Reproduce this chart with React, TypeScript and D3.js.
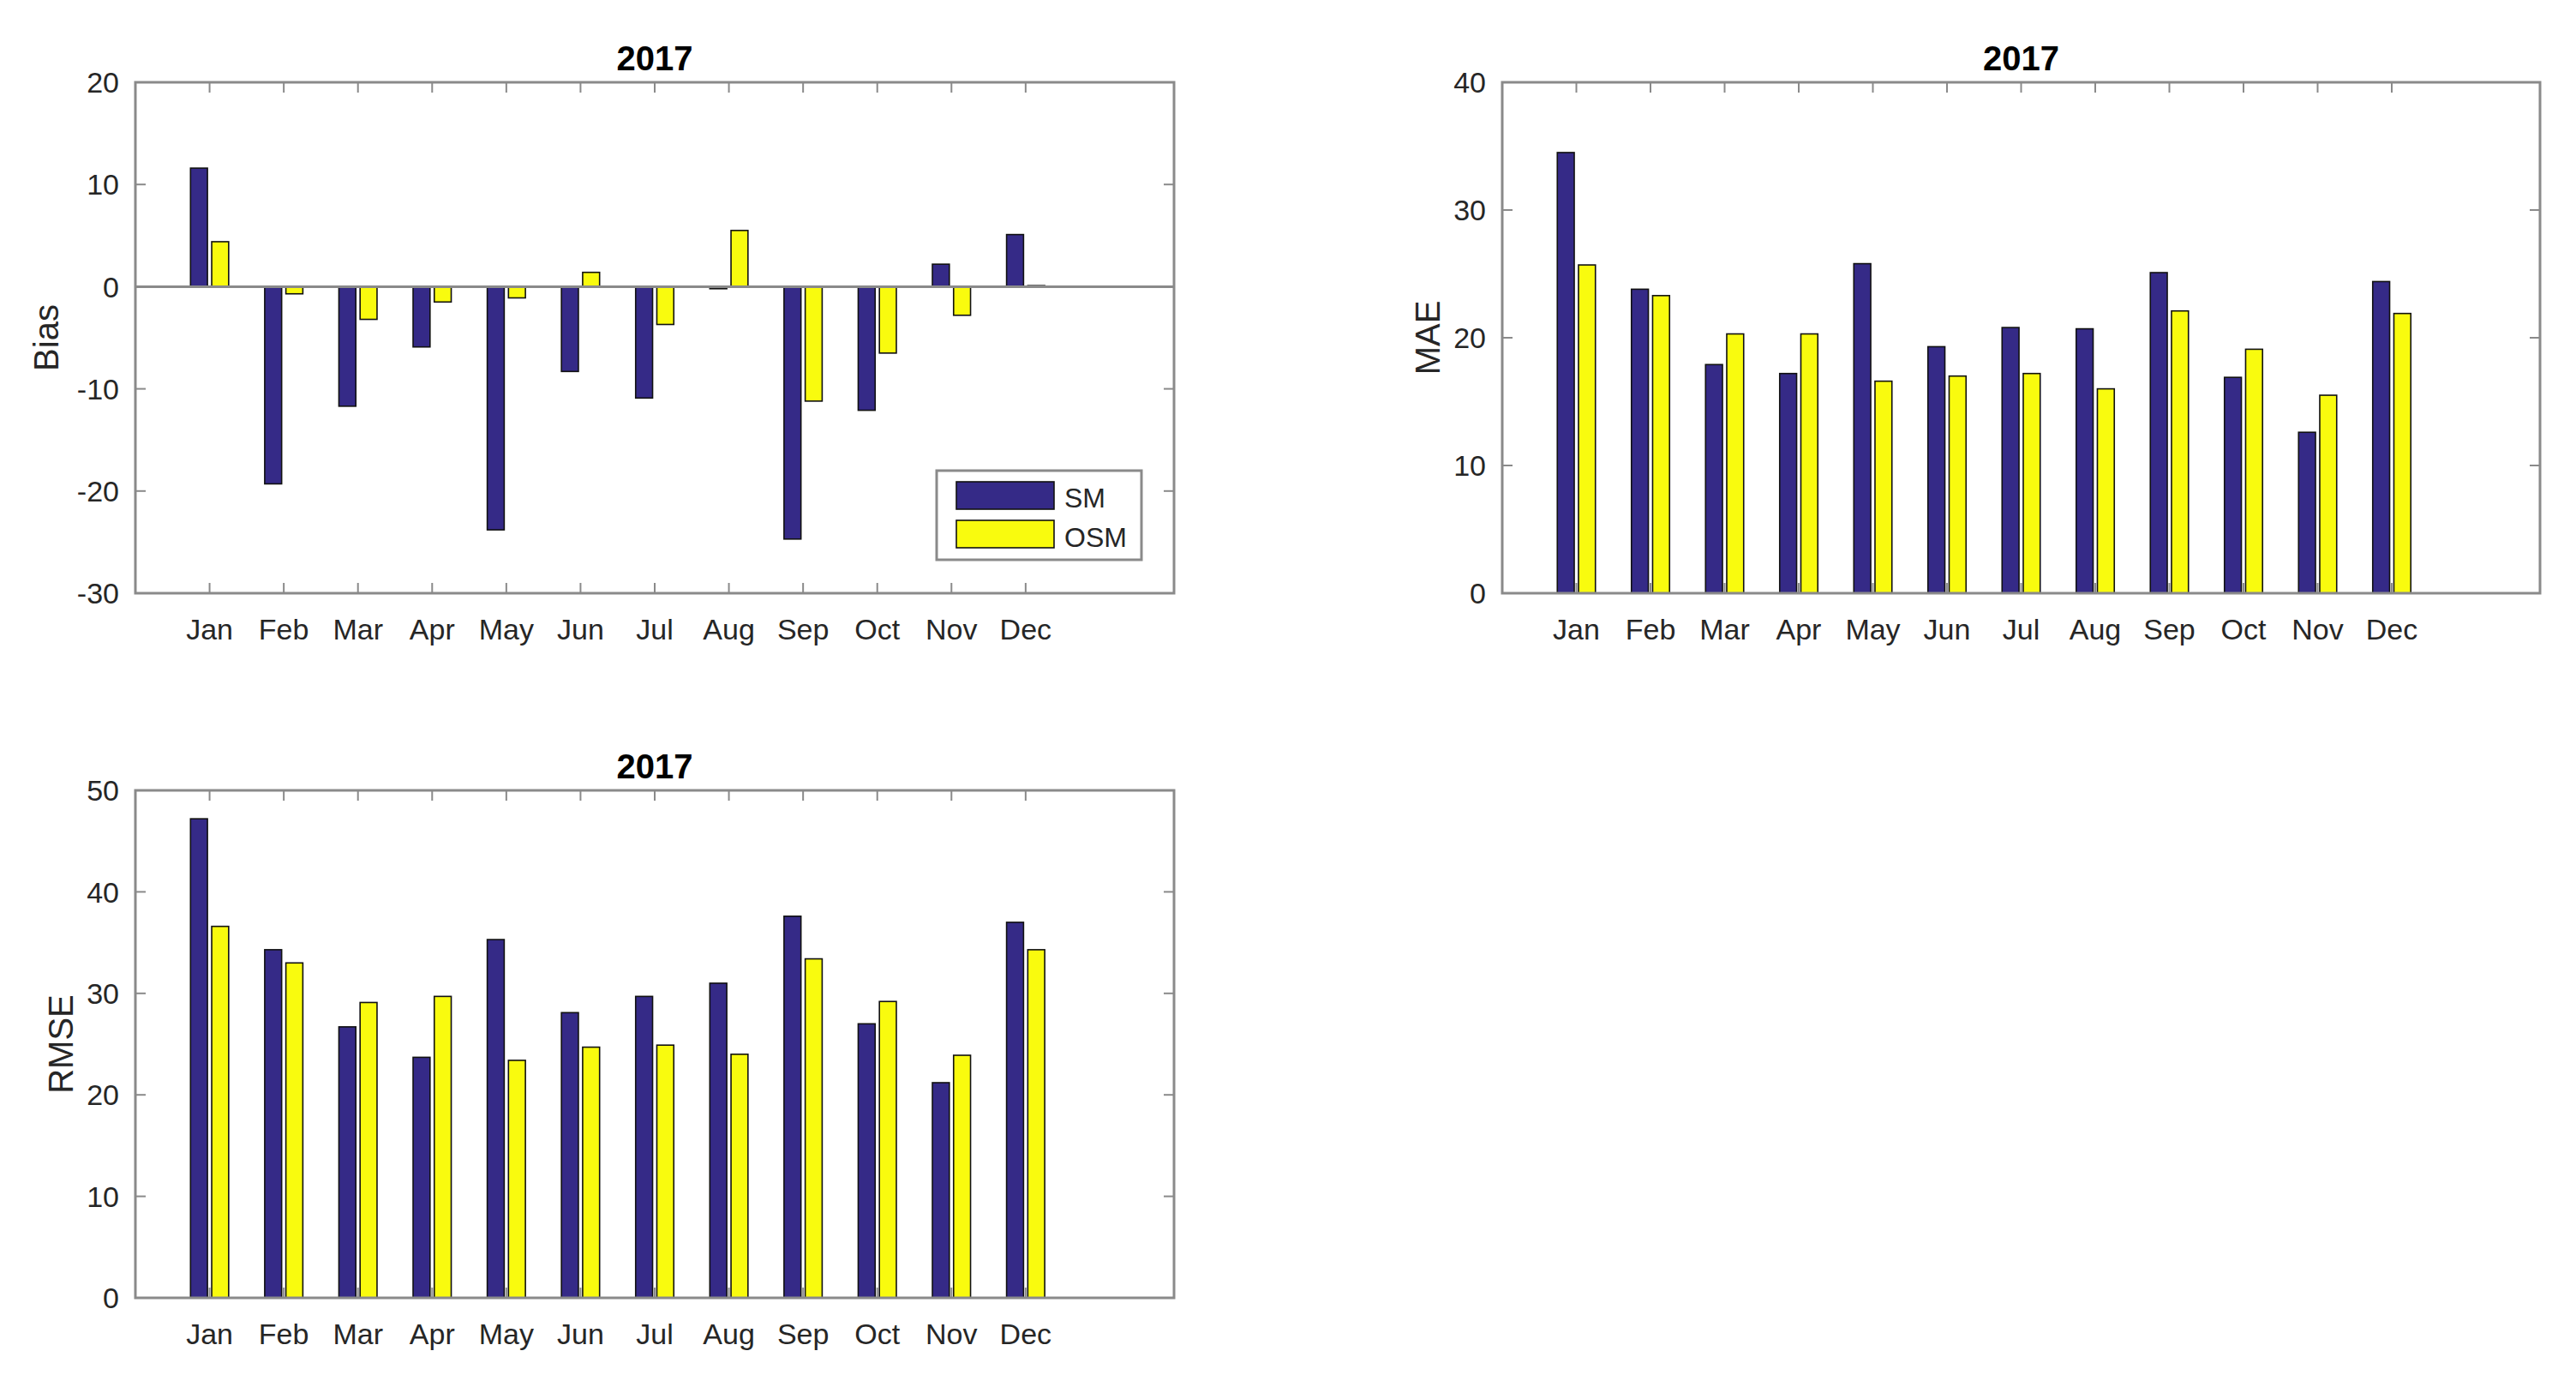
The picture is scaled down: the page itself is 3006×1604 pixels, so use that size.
import React from "react";
import * as d3 from "d3";

const months = ["Jan", "Feb", "Mar", "Apr", "May", "Jun", "Jul", "Aug", "Sep", "Oct", "Nov", "Dec"];
const seriesNames = ["SM", "OSM"];
const seriesColors = ["#352a87", "#f9fb0e"];

const biasSM = [11.6, -19.3, -11.7, -5.9, -23.8, -8.3, -10.9, -0.2, -24.7, -12.1, 2.2, 5.1];
const biasOSM = [4.4, -0.7, -3.2, -1.5, -1.1, 1.4, -3.7, 5.5, -11.2, -6.5, -2.8, 0.1];
const maeSM = [34.5, 23.8, 17.9, 17.2, 25.8, 19.3, 20.8, 20.7, 25.1, 16.9, 12.6, 24.4];
const maeOSM = [25.7, 23.3, 20.3, 20.3, 16.6, 17.0, 17.2, 16.0, 22.1, 19.1, 15.5, 21.9];
const rmseSM = [47.2, 34.3, 26.7, 23.7, 35.3, 28.1, 29.7, 31.0, 37.6, 27.0, 21.2, 37.0];
const rmseOSM = [36.6, 33.0, 29.1, 29.7, 23.4, 24.7, 24.9, 24.0, 33.4, 29.2, 23.9, 34.3];

const biasTicks = [-30, -20, -10, 0, 10, 20];
const maeTicks = [0, 10, 20, 30, 40];
const rmseTicks = [0, 10, 20, 30, 40, 50];

const FONT = "'Liberation Sans', Arial, Helvetica, sans-serif";
const AXIS = "#8a8a8a";
const TEXT = "#262626";

type PanelProps = {
  x0: number; x1: number; y0: number; y1: number;
  sm: number[]; osm: number[];
  ticks: number[]; ylabel: string; ylabelX: number;
  legend?: boolean; baseline?: boolean;
};

function Panel({ x0, x1, y0, y1, sm, osm, ticks, ylabel, ylabelX, legend, baseline }: PanelProps) {
  const x = d3.scaleLinear().domain([0, 14]).range([x0, x1]);
  const y = d3.scaleLinear().domain([ticks[0], ticks[ticks.length - 1]]).range([y1, y0]);
  const groupW = Math.min(0.8, 2 / 3.5);
  const spacing = groupW / 2;
  const bw = spacing * 0.8;
  const offsets = [-spacing / 2, spacing / 2];
  const data = [sm, osm];
  const tickLen = 12;
  const unit = x(1) - x(0);
  return (
    <g>
      {data.map((vals, s) =>
        vals.map((v, i) => {
          const cx = x(i + 1 + offsets[s]);
          const top = y(Math.max(0, v));
          const bot = y(Math.min(0, v));
          return (
            <rect key={`${s}-${i}`} x={cx - (bw * unit) / 2} y={top} width={bw * unit}
              height={Math.max(bot - top, 0.5)} fill={seriesColors[s]} stroke="#111" strokeWidth={1.6} />
          );
        })
      )}
      {baseline && <line x1={x0} x2={x1} y1={y(0)} y2={y(0)} stroke={AXIS} strokeWidth={3} />}
      {/* axes box */}
      <rect x={x0} y={y0} width={x1 - x0} height={y1 - y0} fill="none" stroke={AXIS} strokeWidth={3} />
      {months.map((m, i) => (
        <g key={m}>
          <line x1={x(i + 1)} x2={x(i + 1)} y1={y1} y2={y1 - tickLen} stroke={AXIS} strokeWidth={2} />
          <line x1={x(i + 1)} x2={x(i + 1)} y1={y0} y2={y0 + tickLen} stroke={AXIS} strokeWidth={2} />
          <text x={x(i + 1)} y={y1 + 54} textAnchor="middle" fontFamily={FONT} fontSize={34} fill={TEXT}>{m}</text>
        </g>
      ))}
      {ticks.map((t) => (
        <g key={t}>
          <line x1={x0} x2={x0 + tickLen} y1={y(t)} y2={y(t)} stroke={AXIS} strokeWidth={2} />
          <line x1={x1} x2={x1 - tickLen} y1={y(t)} y2={y(t)} stroke={AXIS} strokeWidth={2} />
          <text x={x0 - 19} y={y(t)} dy="0.36em" textAnchor="end" fontFamily={FONT} fontSize={34} fill={TEXT}>{t}</text>
        </g>
      ))}
      <text x={(x0 + x1) / 2} y={y0 - 14} textAnchor="middle" fontFamily={FONT} fontSize={40} fontWeight="bold" fill="#000">2017</text>
      <text transform={`translate(${ylabelX},${(y0 + y1) / 2}) rotate(-90)`} textAnchor="middle"
        fontFamily={FONT} fontSize={40} fill={TEXT}>{ylabel}</text>
      {legend && (
        <g>
          <rect x={1093} y={549} width={239} height={104} fill="#fff" stroke={AXIS} strokeWidth={3} />
          {seriesNames.map((n, k) => (
            <g key={n}>
              <rect x={1116} y={562 + k * 45} width={114} height={32} fill={seriesColors[k]} stroke="#111" strokeWidth={1.6} />
              <text x={1242} y={592 + k * 46} fontFamily={FONT} fontSize={32} fill={TEXT}>{n}</text>
            </g>
          ))}
        </g>
      )}
    </g>
  );
}

export default function App() {
  return (
    <svg width={3006} height={1604} style={{ position: "absolute", left: 0, top: 0, background: "#fff" }}>
      <rect width={3006} height={1604} fill="#fff" />
      <Panel x0={158} x1={1370} y0={96} y1={692} sm={biasSM} osm={biasOSM} ticks={biasTicks}
        ylabel="Bias" ylabelX={68} legend baseline />
      <Panel x0={1753} x1={2964} y0={96} y1={692} sm={maeSM} osm={maeOSM} ticks={maeTicks}
        ylabel="MAE" ylabelX={1680} />
      <Panel x0={158} x1={1370} y0={922} y1={1514} sm={rmseSM} osm={rmseOSM} ticks={rmseTicks}
        ylabel="RMSE" ylabelX={85} />
    </svg>
  );
}
